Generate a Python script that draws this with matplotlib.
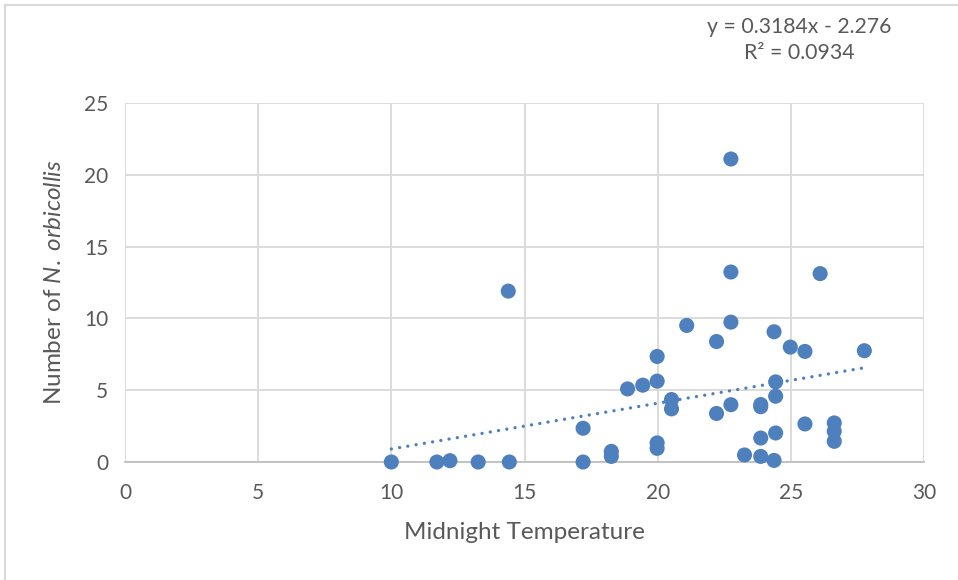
import matplotlib
matplotlib.use("Agg")
import matplotlib.pyplot as plt
import numpy as np

# Midnight temperature vs. count of N. orbicollis
temperature = [10.0, 11.71, 12.2, 13.26, 14.39, 14.43, 17.2, 17.2, 18.26, 18.26,
               18.87, 19.44, 19.98, 19.98, 19.98, 19.98, 20.52, 20.52, 21.09,
               22.75, 22.75, 22.75, 22.21, 22.21, 22.75, 23.26, 23.87, 23.87,
               23.87, 23.87, 24.37, 24.43, 24.43, 24.43, 24.37, 24.98, 25.53,
               25.53, 26.1, 26.63, 26.63, 26.63, 27.76]
count = [0.0, 0.0, 0.09, 0.0, 11.9, 0.0, 0.0, 2.35, 0.74, 0.39,
         5.09, 5.35, 7.35, 5.63, 1.33, 0.95, 4.35, 3.7, 9.51,
         21.1, 13.23, 9.74, 8.39, 3.38, 3.99, 0.49, 4.0, 3.85,
         1.67, 0.39, 9.07, 5.58, 4.58, 2.02, 0.11, 8.0, 7.7,
         2.65, 13.12, 2.72, 2.14, 1.44, 7.75]

slope, intercept, r_squared = 0.3184, -2.276, 0.0934

x_ticks = [0, 5, 10, 15, 20, 25, 30]
y_ticks = [0, 5, 10, 15, 20, 25]

plt.rcParams["font.family"] = ["Lato", "DejaVu Sans"]
plt.rcParams["mathtext.fontset"] = "custom"
plt.rcParams["mathtext.rm"] = "Lato"
plt.rcParams["mathtext.it"] = "Lato:italic"

text_color = "#595959"
grid_color = "#D9D9D9"
dot_color = "#4E80BD"

fig = plt.figure(figsize=(9.58, 5.8), dpi=100)
ax = fig.add_axes([125 / 958, 1 - 462 / 580, (924 - 125) / 958, (462 - 103) / 580])

ax.set_xlim(0, 30)
ax.set_ylim(0, 25)
ax.set_xticks(x_ticks)
ax.set_yticks(y_ticks)
ax.grid(True, color=grid_color, linewidth=1.3)
ax.set_axisbelow(True)
for side in ["top", "right", "left"]:
    ax.spines[side].set_visible(False)
ax.spines["bottom"].set_color("#BFBFBF")
ax.spines["bottom"].set_linewidth(1.3)
ax.tick_params(length=0, labelsize=15, labelcolor=text_color)
ax.tick_params(axis="y", pad=12)
ax.tick_params(axis="x", pad=15)

ax.scatter(temperature, count, s=118, color=dot_color, edgecolors="none",
           zorder=3, clip_on=False)

# linear trendline across the data range
tx = np.array([min(temperature), max(temperature)])
ax.plot(tx, slope * tx + intercept, color=dot_color, linewidth=2.4,
        linestyle=(0, (0.01, 2.5)), dash_capstyle="round", zorder=2)

ax.set_xlabel("Midnight Temperature", fontsize=17.5, color=text_color, labelpad=14)
ax.set_ylabel(r"Number of $\mathit{N.\ orbicollis}$", fontsize=17.5,
              color=text_color, labelpad=14)

fig.text(799 / 958, 1 - 27 / 580, f"y = {slope}x - {abs(intercept)}",
         ha="center", va="center", fontsize=15.3, color=text_color)
fig.text(799 / 958, 1 - 53 / 580, f"R² = {r_squared}",
         ha="center", va="center", fontsize=15.3, color=text_color)

# chart-area border
fig.add_artist(plt.Line2D([5 / 958, 5 / 958], [0, 1 - 5 / 580],
                          transform=fig.transFigure, color=grid_color, linewidth=1.5))
fig.add_artist(plt.Line2D([5 / 958, 1], [1 - 5 / 580, 1 - 5 / 580],
                          transform=fig.transFigure, color=grid_color, linewidth=1.5))

fig.savefig("out.png", dpi=100, facecolor="white")
